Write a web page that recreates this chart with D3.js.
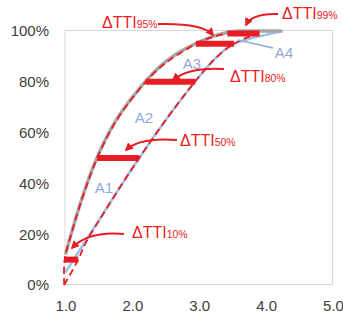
<!DOCTYPE html>
<html>
<head>
<meta charset="utf-8">
<script src="https://cdn.jsdelivr.net/npm/d3@7/dist/d3.min.js"></script>
<style>
  html, body { margin: 0; padding: 0; background: #fff; }
  svg { display: block; }
</style>
</head>
<body>
<svg id="chart" width="343" height="322"></svg>
<script>
// Axis ticks
const xTicks = [1, 2, 3, 4, 5];
const yTicks = [0, 20, 40, 60, 80, 100];

// Observed cumulative curves (TTI vs. cumulative %)
const fastTTI = [1.0, 1.1, 1.2, 1.3, 1.4, 1.5, 1.6, 1.7, 1.8, 1.9, 2.0, 2.2, 2.4, 2.6, 2.8, 3.0, 3.2, 3.4, 3.6, 4.23];
const fastPct = [12, 21.5, 30.3, 38.3, 45.5, 51.9, 57.5, 62.4, 66.7, 70.5, 73.9, 80.3, 85.7, 89.9, 93.1, 95.7, 97.9, 99.3, 100, 100];
const slowTTI = [1.0, 1.5, 2.0, 2.5, 2.8, 3.0, 3.2, 3.4, 3.6, 3.8, 4.0, 4.25];
const slowPct = [5, 25.5, 46, 65, 75.5, 82.1, 88.1, 92.9, 95.7, 97.3, 98.5, 100];

// Fitted curves (dashed)
const fitFastTTI = [0.98, 0.98, 1.0, 1.1, 1.2, 1.3, 1.4, 1.5, 1.6, 1.7, 1.8, 1.9, 2.0, 2.2, 2.4, 2.6, 2.8, 2.95, 3.2, 3.42];
const fitFastPct = [0, 8, 12, 21.3, 30, 38, 45.2, 51.5, 57, 62, 66.3, 70.1, 73.6, 80, 85.3, 89.4, 92.6, 95, 97.6, 99];
const fitSlowTTI = [0.98, 1.19, 1.3, 1.5, 2.0, 2.5, 2.8, 3.0, 3.2, 3.4, 3.52, 3.7, 3.9];
const fitSlowPct = [0, 10, 16.5, 25.3, 46, 65, 75.5, 82.1, 88.1, 92.9, 95, 97.3, 99];

// ΔTTI gaps at selected percentiles
const gapPct = [10, 50, 80, 95, 99];
const gapFast = [0.98, 1.47, 2.2, 2.95, 3.42];
const gapSlow = [1.19, 2.1, 2.94, 3.52, 3.9];
const gapNames = ["10%", "50%", "80%", "95%", "99%"];

// Area labels
const areaNames = ["A1", "A2", "A3", "A4"];

const svg = d3.select("#chart");
const x = d3.scaleLinear().domain([1, 5]).range([65.5, 333]);
const y = d3.scaleLinear().domain([0, 100]).range([285, 31]);

const RED = "#ea1c24";
const BLUE = "#9dc3e6";
const GRAY = "#a5a5a5";
const AREA = "#8faad8";
const TICK = "#404040";
const tickFont = "'Liberation Sans Narrow', 'Arial Narrow', 'Liberation Sans', Arial, sans-serif";

// plot frame
svg.append("rect")
  .attr("x", 65).attr("y", 30.5)
  .attr("width", 267.5).attr("height", 254)
  .attr("fill", "none").attr("stroke", "#d9d9d9").attr("stroke-width", 1);

// axes (labels only)
const xAxis = d3.axisBottom(x).tickValues(xTicks).tickFormat(d3.format(".1f")).tickSize(0).tickPadding(0);
const gx = svg.append("g").attr("transform", "translate(0,300)").call(xAxis);
gx.select(".domain").remove();
gx.selectAll("text").attr("font-family", tickFont).attr("font-size", 15).attr("fill", TICK).attr("dy", "0.71em");

const yAxis = d3.axisLeft(y).tickValues(yTicks).tickFormat(d => d + "%").tickSize(0).tickPadding(0);
const gy = svg.append("g").attr("transform", "translate(49,0)").call(yAxis);
gy.select(".domain").remove();
gy.selectAll("text").attr("font-family", tickFont).attr("font-size", 15).attr("fill", TICK);

const zip = (a, b) => a.map((v, i) => [v, b[i]]);
const smooth = d3.line().x(d => x(d[0])).y(d => y(d[1])).curve(d3.curveMonotoneX);
const bendy = d3.line().x(d => x(d[0])).y(d => y(d[1])).curve(d3.curveCatmullRom.alpha(0.5));

// observed curves
svg.append("path").datum(zip(slowTTI, slowPct)).attr("d", smooth)
  .attr("fill", "none").attr("stroke", BLUE).attr("stroke-width", 2.6);
svg.append("path").datum(zip(fastTTI, fastPct)).attr("d", smooth)
  .attr("fill", "none").attr("stroke", GRAY).attr("stroke-width", 3.4);

// fitted curves
[zip(fitFastTTI, fitFastPct), zip(fitSlowTTI, fitSlowPct)].forEach(pts => {
  svg.append("path").datum(pts).attr("d", bendy)
    .attr("fill", "none").attr("stroke", RED).attr("stroke-width", 1.8)
    .attr("stroke-dasharray", "7,4");
});

// ΔTTI bars
svg.append("g").selectAll("line").data(gapPct).join("line")
  .attr("x1", (d, i) => x(gapFast[i])).attr("x2", (d, i) => x(gapSlow[i]))
  .attr("y1", d => y(d)).attr("y2", d => y(d))
  .attr("stroke", RED).attr("stroke-width", 6);

// area labels
const areaPos = [[104, 193], [144, 123], [192, 69], [284, 58]];
svg.append("line").attr("x1", 238).attr("y1", 40).attr("x2", 273).attr("y2", 48)
  .attr("stroke", AREA).attr("stroke-width", 1.4);
svg.append("g").selectAll("text").data(areaNames).join("text")
  .attr("x", (d, i) => areaPos[i][0]).attr("y", (d, i) => areaPos[i][1])
  .attr("text-anchor", "middle")
  .attr("font-family", tickFont).attr("font-size", 15).attr("fill", AREA)
  .text(d => d);

// annotation arrows
svg.append("defs").append("marker")
  .attr("id", "head").attr("viewBox", "0 0 10 10")
  .attr("refX", 8).attr("refY", 5)
  .attr("markerWidth", 4.2).attr("markerHeight", 4.2)
  .attr("markerUnits", "strokeWidth")
  .attr("orient", "auto")
  .append("path").attr("d", "M0,0 L10,5 L0,10 Z").attr("fill", RED);

// text anchor, arrow start, control, tip
const notes = [
  { i: 0, tx: 132, ty: 238, a: [124, 234], c: [88, 231], t: [72, 248] },
  { i: 1, tx: 180, ty: 146, a: [177, 140], c: [140, 137], t: [126, 150] },
  { i: 2, tx: 230, ty: 82, a: [224, 69], c: [189, 67], t: [173, 80] },
  { i: 3, tx: 102, ty: 28, a: [158, 24], c: [203, 23], t: [213, 35] },
  { i: 4, tx: 282, ty: 19, a: [278, 14], c: [252, 13], t: [246, 25] }
];
notes.forEach(n => {
  svg.append("path")
    .attr("d", `M${n.a[0]},${n.a[1]} Q${n.c[0]},${n.c[1]} ${n.t[0]},${n.t[1]}`)
    .attr("fill", "none").attr("stroke", RED).attr("stroke-width", 2)
    .attr("marker-end", "url(#head)");
  const t = svg.append("text").attr("x", n.tx).attr("y", n.ty)
    .attr("font-family", "'Liberation Sans', Arial, sans-serif").attr("fill", RED);
  t.append("tspan").attr("font-size", 16).text("ΔTTI");
  t.append("tspan").attr("font-size", 10.5).text(gapNames[n.i]);
});
</script>
</body>
</html>
